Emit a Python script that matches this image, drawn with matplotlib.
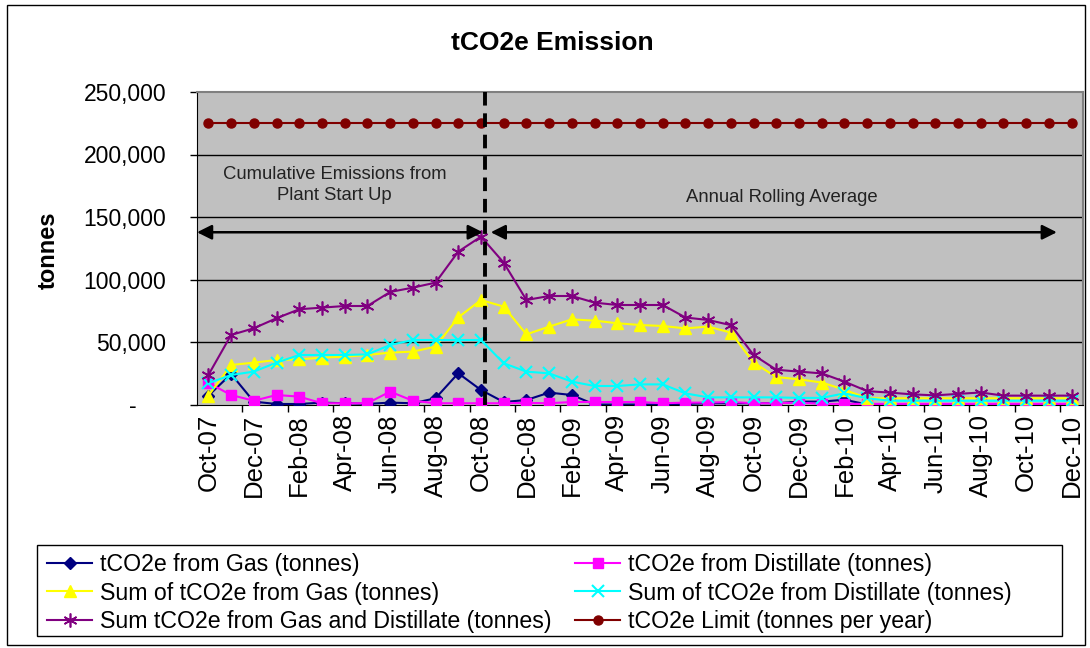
import matplotlib
matplotlib.use('Agg')
import matplotlib.pyplot as plt
from matplotlib.patches import Rectangle
from matplotlib.transforms import ScaledTranslation
import pandas as pd

plt.rcParams['font.family'] = ['Liberation Sans', 'DejaVu Sans']

# Monthly data, Oct-07 .. Dec-10
months = pd.date_range('2007-10-01', periods=39, freq='MS').strftime('%b-%y').tolist()

gas = [7000, 24400, 2300, 400, 400, 1500, 1000, 500, 1500, 1000, 5000, 25000, 11600,
       2000, 3600, 9500, 7600, 0, 0, 0, 0, 500, 1000, 1000, 1000, 1000, 2300, 2300,
       3800, 0, 0, 0, 0, 0, 0, 0, 0, 0, 0]
distillate = [17300, 7600, 3000, 7600, 6300, 1000, 1000, 1000, 10300, 3000, 1000, 1000,
              1000, 1000, 1300, 1000, 2000, 2000, 2000, 2000, 1000, 1500, 1500, 2000,
              1000, 1000, 1500, 500, 500, 500, 500, 500, 500, 500, 500, 500, 500, 500, 500]
sum_gas = [7000, 31600, 33500, 35600, 36100, 37500, 38300, 39600, 41500, 42300, 46300,
           69700, 83600, 78300, 56100, 62300, 68100, 67100, 65000, 63600, 62800, 60900,
           62300, 57500, 33500, 22000, 20100, 17600, 11800, 5000, 5000, 5000, 5000, 5000,
           5000, 5000, 5000, 5000, 5000]
sum_distillate = [17000, 23600, 26300, 33500, 39600, 39600, 39600, 40100, 47600, 51600,
                  51600, 51600, 51600, 33000, 26300, 24900, 18300, 14800, 14800, 16100,
                  16100, 8900, 5700, 5700, 5700, 5700, 5300, 5300, 8900, 5000, 3000, 3000,
                  3000, 3000, 3000, 3000, 3000, 3000, 3000]
sum_total = [23600, 55600, 61000, 69000, 76200, 77500, 78800, 78800, 90000, 93500, 97500,
             122300, 134300, 113500, 83600, 86800, 86800, 81500, 79600, 79600, 79600,
             69600, 67600, 63500, 39600, 27800, 26300, 24900, 18300, 10700, 9500, 8100,
             7300, 8500, 9600, 7100, 7100, 7100, 7100]
limit = [225500] * 39

x = list(range(len(months)))

fig = plt.figure(figsize=(10.9, 6.48), dpi=100)
ax = fig.add_axes([197 / 1090, 1 - 404.5 / 648, 886 / 1090, 312.5 / 648])
ax.set_facecolor('#C0C0C0')

for v in [50000, 100000, 150000, 200000]:
    ax.axhline(v, color='black', lw=1, zorder=1)

l_gas, = ax.plot(x, gas, color='#000080', lw=1.5, marker='D', ms=6.5,
                 label='tCO2e from Gas (tonnes)', zorder=3)
l_dist, = ax.plot(x, distillate, color='#FF00FF', lw=1.5, marker='s', ms=6.5,
                  label='tCO2e from Distillate (tonnes)', zorder=3)
l_sgas, = ax.plot(x, sum_gas, color='#FFFF00', lw=1.5, marker='^', ms=8.5,
                  label='Sum of tCO2e from Gas (tonnes)', zorder=3)
l_sdist, = ax.plot(x, sum_distillate, color='#00FFFF', lw=1.5, marker='x', ms=8, mew=1.5,
                   label='Sum of tCO2e from Distillate (tonnes)', zorder=3)
l_tot, = ax.plot(x, sum_total, color='#800080', lw=1.5, marker=(6, 2, 0), ms=10, mew=1.2,
                 label='Sum tCO2e from Gas and Distillate (tonnes)', zorder=3)
l_lim, = ax.plot(x, limit, color='#800000', lw=1.5, marker='o', ms=6.5,
                 label='tCO2e Limit (tonnes per year)', zorder=3)

# split between cumulative and rolling average
ax.axvline(12.17, color='black', lw=2.8, dashes=(3.5, 2), zorder=4)
ax.annotate('', xy=(-0.5, 137800), xytext=(12.08, 137800),
            arrowprops=dict(arrowstyle='<|-|>', color='black', lw=1.8, mutation_scale=22,
                            shrinkA=0, shrinkB=0), zorder=4)
ax.annotate('', xy=(12.43, 137800), xytext=(37.35, 137800),
            arrowprops=dict(arrowstyle='<|-|>', color='black', lw=1.8, mutation_scale=22,
                            shrinkA=0, shrinkB=0), zorder=4)
ax.text(5.56, 175500, 'Cumulative Emissions from\nPlant Start Up', ha='center', va='center',
        fontsize=13.3, linespacing=1.3, color='#222222')
ax.text(25.26, 165500, 'Annual Rolling Average', ha='center', va='center',
        fontsize=13.3, color='#222222')

ax.set_xlim(-0.5, 38.5)
ax.set_ylim(0, 250000)
ax.set_yticks([0, 50000, 100000, 150000, 200000, 250000])
ax.set_yticklabels(['-', '50,000', '100,000', '150,000', '200,000', '250,000'])
ax.tick_params(axis='y', direction='out', length=5, width=1, pad=17, labelsize=16.5)

ax.set_xticks([i + 1.5 for i in range(0, 38, 2)])
ax.set_xticklabels([])
ax.set_xticks(x[::2], minor=True)
ax.set_xticklabels(months[::2], minor=True, rotation=90, fontsize=18.5)
ax.tick_params(axis='x', which='major', direction='out', length=5, width=1)
ax.tick_params(axis='x', which='minor', length=0, pad=7)

# zero label sits further left, like the accounting format
zero_lbl = ax.get_yticklabels()[0]
zero_lbl.set_transform(zero_lbl.get_transform() + ScaledTranslation(-30 / 100, 0, fig.dpi_scale_trans))

for side in ['left', 'bottom']:
    ax.spines[side].set_color('black')
for side in ['top', 'right']:
    ax.spines[side].set_color('#808080')
    ax.spines[side].set_linewidth(1.5)

fig.text(552 / 1090, 1 - 43 / 648, 'tCO2e Emission', ha='center', va='center',
         fontsize=19, fontweight='bold')
fig.text(48 / 1090, 1 - 250 / 648, 'tonnes', ha='center', va='center', rotation=90,
         fontsize=17, fontweight='bold')

# outer chart frame and legend box
fig.patches.append(Rectangle((7 / 1090, 1 - 645 / 648), 1078 / 1090, 640 / 648,
                             transform=fig.transFigure, fill=False, ec='black', lw=1))
fig.patches.append(Rectangle((37 / 1090, 1 - 636 / 648), 1025 / 1090, 91 / 648,
                             transform=fig.transFigure, fill=False, ec='black', lw=1))
# column-major order so rows read like the original
handles = [l_gas, l_sgas, l_tot, l_dist, l_sdist, l_lim]
fig.legend(handles=handles, loc='upper left', bbox_to_anchor=(47 / 1090, 1 - 553 / 648),
           ncol=2, frameon=False, fontsize=16.7, handlelength=1.95, handletextpad=0.35,
           columnspacing=1.0, labelspacing=0.24, borderpad=0, borderaxespad=0)

fig.savefig('out.png', dpi=100)
